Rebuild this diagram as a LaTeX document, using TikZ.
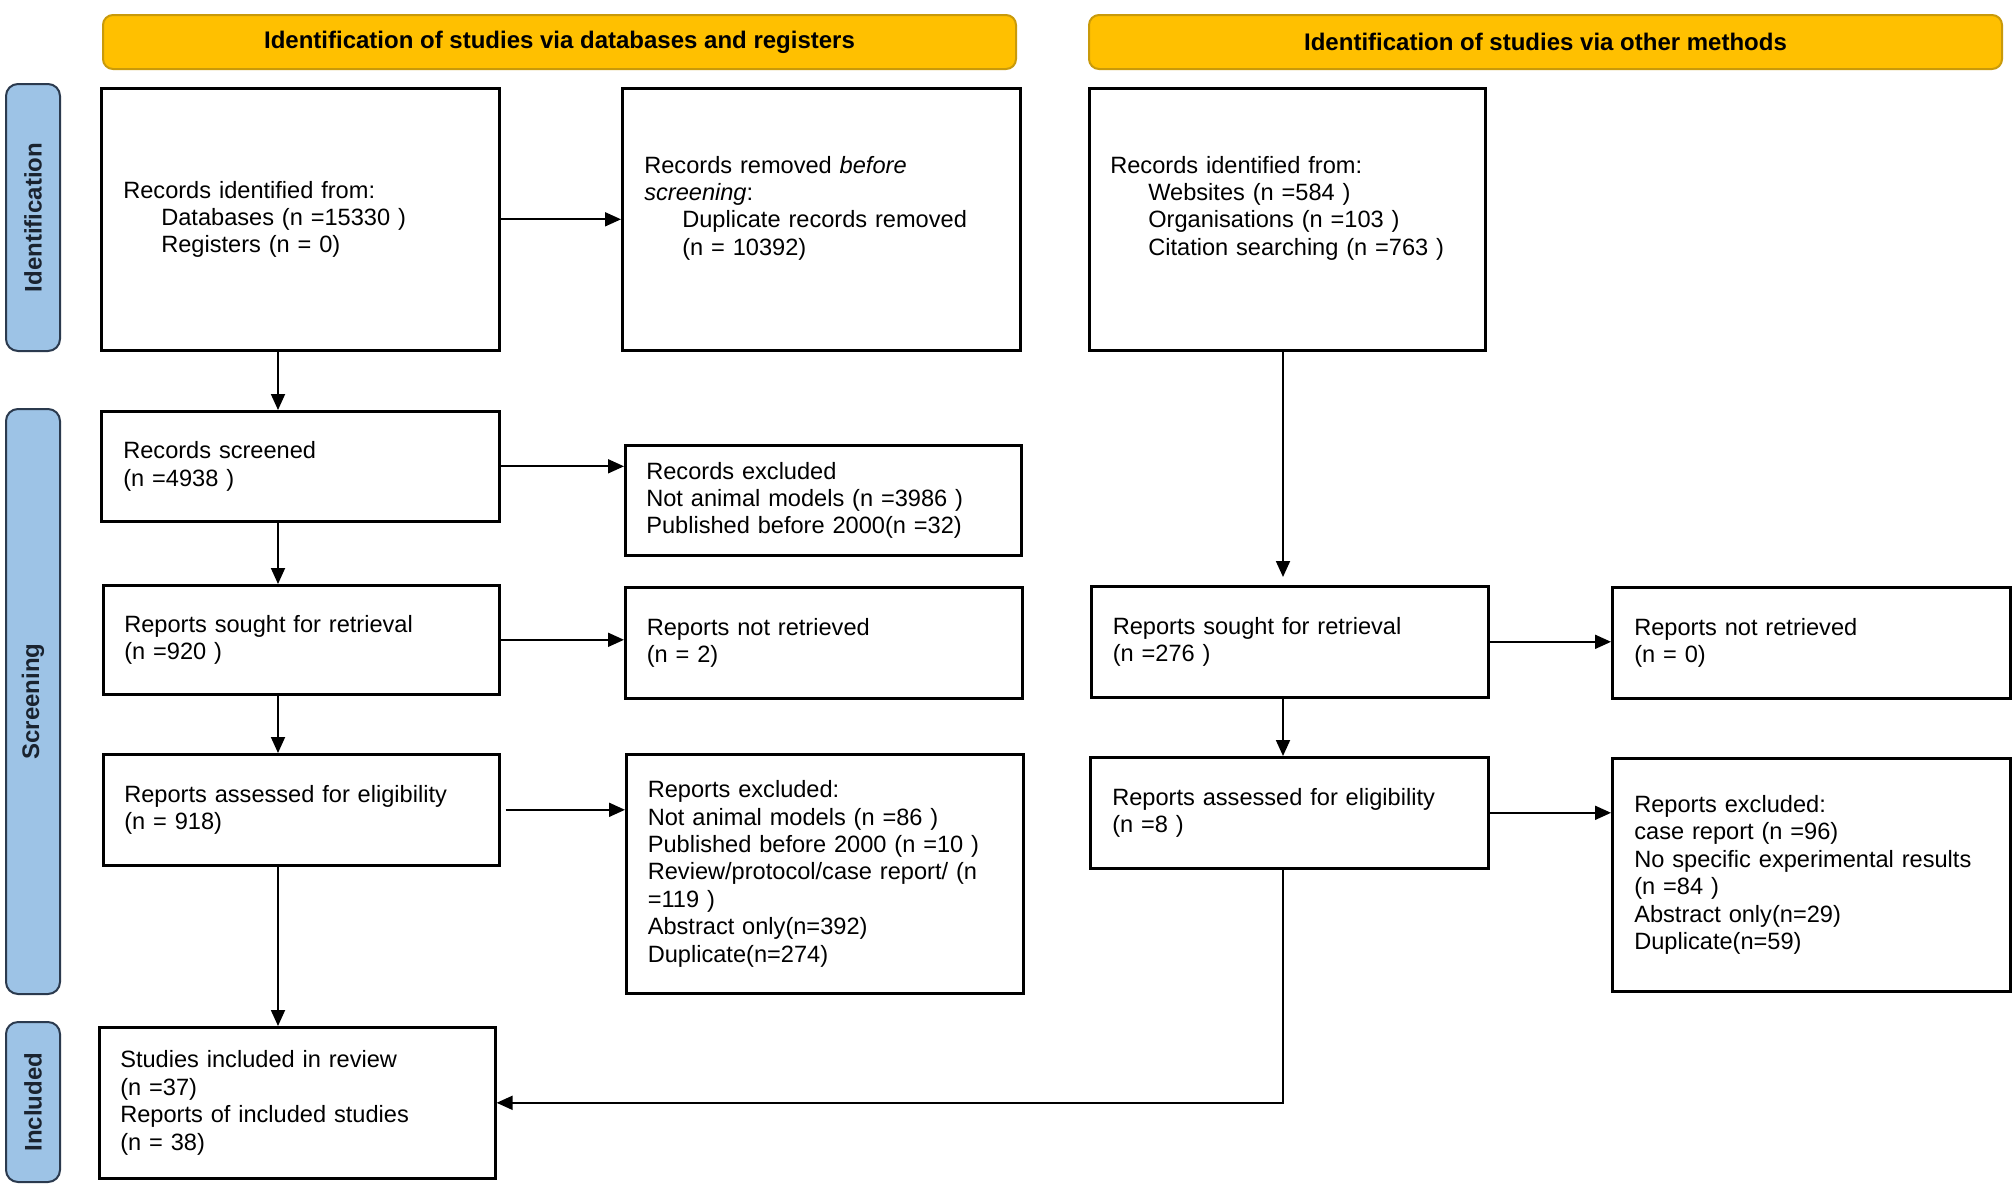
\documentclass[tikz,border=0pt]{standalone}
\usepackage{fontspec}
\setmainfont{Liberation Sans}
\usetikzlibrary{arrows.meta}
\definecolor{hdrfill}{HTML}{FFC000}
\definecolor{hdrdraw}{HTML}{C99A0A}
\definecolor{sidefill}{HTML}{9DC3E6}
\definecolor{sidedraw}{HTML}{2B3A4E}
\newcommand\ind{\hspace*{19pt}}
\begin{document}
\begin{tikzpicture}[x=0.5pt,y=-0.5pt,
  box/.style={draw=black, line width=1.3pt, inner xsep=0pt, inner ysep=0pt,
    text width=177pt, align=left, anchor=north west,
    font=\fontsize{11.8}{13.7}\selectfont},
  hdr/.style={draw=hdrdraw, fill=hdrfill, line width=1pt, rounded corners=5pt,
    inner sep=0pt, minimum width=456.5pt, minimum height=27pt,
    font=\bfseries\fontsize{12}{14}\selectfont},
  side/.style={draw=sidedraw, fill=sidefill, line width=1pt, rounded corners=6pt,
    inner sep=0pt, rotate=90, minimum height=27pt,
    font=\bfseries\fontsize{12}{14}\selectfont, text=sidedraw!60!black},
  arr/.style={line width=0.9pt, -{Triangle[length=8pt,width=7pt]}}
]
\useasboundingbox (0,0) rectangle (2016,1184);
\fill[white] (0,0) rectangle (2016,1184);

% headers
\node[hdr] (h1) at (559.5,42) {Identification of studies via databases and registers};
\node[hdr] (h2) at (1545.5,42) {Identification of studies via other methods};

% side labels
\node[side, minimum width=133.5pt] (s1) at (33,217.5) {Identification};
\node[side, minimum width=292.5pt] (s2) at (33,701.5) {Screening};
\node[side, minimum width=80pt] (s3) at (33,1102) {Included};

% boxes
\node[box, minimum width=199pt, minimum height=131pt] (A1) at (100,87)
  {Records identified from:\\ \ind Databases (n =15330 )\\ \ind Registers (n = 0)};
\node[box, minimum width=199pt, minimum height=131pt] (A2) at (621,87)
  {Records removed \emph{before}\\ \emph{screening}:\\ \ind Duplicate records removed\\ \ind (n = 10392)\\ \mbox{}};
\node[box, minimum width=198pt, minimum height=131pt] (B1) at (1088,87)
  {Records identified from:\\ \ind Websites (n =584 )\\ \ind Organisations (n =103 )\\ \ind Citation searching (n =763 )\\ \mbox{}};

\node[box, minimum width=199pt, minimum height=55pt] (scr) at (100,410)
  {Records screened\\ (n =4938 )};
\node[box, minimum width=198pt, minimum height=55pt] (excl) at (624,444)
  {Records excluded\\ Not animal models (n =3986 )\\ Published before 2000(n =32)};

\node[box, minimum width=198pt, minimum height=54.5pt] (sought) at (102,584)
  {Reports sought for retrieval\\ (n =920 )};
\node[box, minimum width=198.5pt, minimum height=55.5pt] (notr) at (624,586)
  {Reports not retrieved\\ (n = 2)};
\node[box, minimum width=198.5pt, minimum height=55.5pt] (sought2) at (1090,585)
  {Reports sought for retrieval\\ (n =276 )};
\node[box, minimum width=199pt, minimum height=55.5pt] (notr2) at (1611,586)
  {Reports not retrieved\\ (n = 0)};

\node[box, minimum width=198pt, minimum height=55.5pt] (assess) at (102,753)
  {Reports assessed for eligibility\\ (n = 918)};
\node[box, minimum width=198.5pt, minimum height=119.5pt] (rexcl) at (625,753)
  {Reports excluded:\\ Not animal models (n =86 )\\ Published before 2000 (n =10 )\\ Review/protocol/case report/ (n\\ =119 )\\ Abstract only(n=392)\\ Duplicate(n=274)};
\node[box, minimum width=199pt, minimum height=55.5pt] (assess2) at (1089,756)
  {Reports assessed for eligibility\\ (n =8 )};
\node[box, minimum width=199pt, minimum height=116.5pt] (rexcl2) at (1611,757)
  {Reports excluded:\\ case report (n =96)\\ No specific experimental results\\ (n =84 )\\ Abstract only(n=29)\\ Duplicate(n=59)};

\node[box, minimum width=198pt, minimum height=75.5pt] (incl) at (98,1026)
  {Studies included in review\\ (n =37)\\ Reports of included studies\\ (n = 38)};

% connectors
\coordinate (cx) at (278,0);
\coordinate (rx) at (1283,0);
\draw[arr] (A1.east) -- (A2.west);
\draw[arr] (A1.south -| cx) -- (scr.north -| cx);
\draw[arr] (scr.east) -- (scr.east -| excl.west);
\draw[arr] (scr.south -| cx) -- (sought.north -| cx);
\draw[arr] (sought.east) -- (sought.east -| notr.west);
\draw[arr] (sought.south -| cx) -- (assess.north -| cx);
\draw[arr] ([xshift=2.5pt]assess.east) -- (assess.east -| rexcl.west);
\draw[arr] (assess.south -| cx) -- (incl.north -| cx);
\draw[arr, shorten >=4pt] (B1.south -| rx) -- (sought2.north -| rx);
\draw[arr] (sought2.east) -- (sought2.east -| notr2.west);
\draw[arr] (sought2.south -| rx) -- (assess2.north -| rx);
\draw[arr] (assess2.east) -- (assess2.east -| rexcl2.west);
\draw[arr] (assess2.south -| rx) |- (incl.east);
\end{tikzpicture}
\end{document}
